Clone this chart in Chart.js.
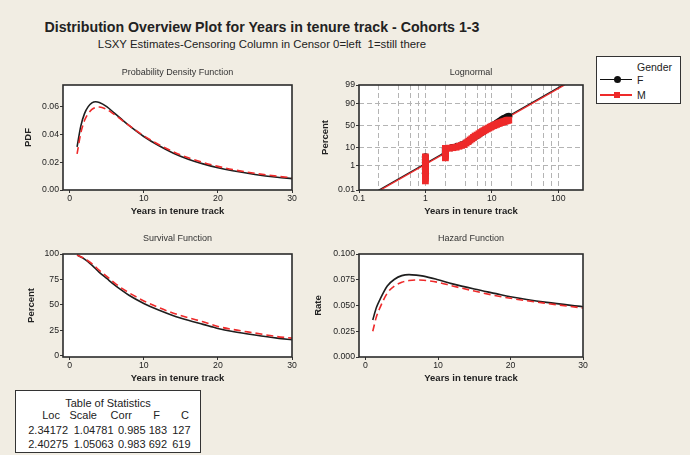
<!DOCTYPE html>
<html>
<head>
<meta charset="utf-8">
<script src="https://cdn.jsdelivr.net/npm/chart.js@4.4.1/dist/chart.umd.min.js"></script>
<style>
  html, body { margin: 0; padding: 0; }
  body {
    width: 690px; height: 455px; position: relative; overflow: hidden;
    background: #f1ede3; color: #222;
    font-family: "Liberation Sans", Arial, sans-serif;
  }
  canvas { position: absolute; }
  .lab { position: absolute; white-space: nowrap; line-height: 1; transform: translateY(-50%); }
  .lab.c { transform: translate(-50%, -50%); }
  .lab.r { transform: translate(-100%, -50%); }
  .box { position: absolute; box-sizing: border-box; border: 1.5px solid #333; background: #fff; }
  .ln { position: absolute; height: 1.5px; }
  .mk { position: absolute; }
</style>
</head>
<body>
  <div class="lab c" style="left:262px;top:27px;font-size:14.2px;font-weight:bold;">Distribution Overview Plot for Years in tenure track - Cohorts 1-3</div>
  <div class="lab c" style="left:262px;top:44.5px;font-size:11.4px;">LSXY Estimates-Censoring Column in Censor 0=left&nbsp; 1=still there</div>

  <canvas id="pdf" width="300" height="160" style="left:0;top:60px;"></canvas>
  <canvas id="logn" width="290" height="160" style="left:300px;top:60px;"></canvas>
  <canvas id="surv" width="300" height="158" style="left:0;top:229px;"></canvas>
  <canvas id="haz" width="290" height="158" style="left:300px;top:229px;"></canvas>

  <!-- legend -->
  <div class="box" style="left:596px;top:56px;width:85px;height:48px;"></div>
  <div class="lab" style="left:637px;top:67px;font-size:10.5px;">Gender</div>
  <div class="ln" style="left:600px;top:78.5px;width:32px;background:#111;"></div>
  <div class="mk" style="left:613.5px;top:75.5px;width:7px;height:7px;border-radius:50%;background:#111;"></div>
  <div class="lab" style="left:637px;top:79.5px;font-size:10.5px;">F</div>
  <div class="ln" style="left:600px;top:94px;width:32px;background:#ee2a2a;"></div>
  <div class="mk" style="left:614px;top:91.5px;width:6px;height:6px;background:#ee2a2a;"></div>
  <div class="lab" style="left:637px;top:95px;font-size:10.5px;">M</div>

  <!-- table of statistics -->
  <div class="box" style="left:15px;top:390px;width:186px;height:63px;"></div>
  <div class="lab c" style="left:108px;top:402.5px;font-size:11px;">Table of Statistics</div>
  <div id="tbl"></div>

<script>
// ---- data ----
const years = [1, 1.5, 2, 2.5, 3, 3.5, 4, 5, 6, 7, 8, 10, 12, 14, 16, 18, 20, 22, 25, 28, 30];
const pdfF = [0.031, 0.046, 0.055, 0.060, 0.0627, 0.0635, 0.063, 0.060, 0.0555, 0.051, 0.0465, 0.0385, 0.032, 0.0265, 0.0222, 0.0188, 0.016, 0.0138, 0.0112, 0.0092, 0.0082];
const pdfM = [0.026, 0.041, 0.050, 0.055, 0.058, 0.0595, 0.0598, 0.058, 0.0545, 0.0505, 0.0465, 0.039, 0.0328, 0.0275, 0.0232, 0.0198, 0.017, 0.0147, 0.012, 0.0099, 0.0088];

const survYears = [1, 2, 3, 4, 5, 6, 7, 8, 10, 12, 14, 16, 18, 20, 22, 25, 28, 30];
const survF = [99, 95, 89, 82, 76, 70, 64.5, 59.5, 51.5, 45, 39.5, 35, 31, 27, 24, 20.5, 17.5, 16];
const survM = [99, 95.5, 90.5, 84, 78, 72, 66.5, 62, 54, 47.5, 42, 37.5, 33.5, 29, 26, 22.5, 19, 17.5];

const hazYears = [1, 1.5, 2, 3, 4, 5, 6, 7, 8, 10, 12, 15, 18, 20, 25, 30];
const hazF = [0.036, 0.048, 0.056, 0.069, 0.0755, 0.079, 0.080, 0.0795, 0.0785, 0.075, 0.071, 0.066, 0.0615, 0.0585, 0.053, 0.0488];
const hazM = [0.025, 0.039, 0.048, 0.062, 0.069, 0.0725, 0.0742, 0.0748, 0.0745, 0.0725, 0.069, 0.064, 0.0595, 0.057, 0.052, 0.0475];

// lognormal probability plot (percent)
const fitF = { x: [0.2, 118], y: [0.01, 99] };
const fitM = { x: [0.21, 125], y: [0.01, 99] };
const ptsYearsF = [1, 1, 1, 1, 1, 1, 2, 2, 2, 2, 2.5, 3, 3.5, 4, 4.5, 5, 5.5, 6, 6.5, 7, 7.5, 8, 9, 10, 11, 12, 13, 14, 15, 16, 17, 18];
const ptsPctF = [0.3, 0.6, 1, 1.6, 2.4, 3.5, 4, 5.5, 7, 9, 10, 11.5, 13, 15.5, 18.5, 22, 25, 28, 31, 34, 37, 40, 44, 48, 52, 56, 59.5, 62.5, 65, 67, 69, 70];
const ptsYearsM = [1, 1, 1, 1, 1, 1, 1, 1, 1, 1, 1, 1, 2, 2, 2, 2, 2, 2, 2, 2,
  2.3, 2.6, 2.9, 3.2, 3.5, 3.8, 4.1, 4.4, 4.7, 5.0, 5.3, 5.6, 6.0, 6.4, 6.8, 7.2, 7.6, 8.0, 8.5, 9.0, 9.5, 10,
  10.6, 11.2, 11.8, 12.4, 13, 13.7, 14.4, 15.1, 15.8, 16.5, 17.2, 18];
const ptsPctM = [0.07, 0.12, 0.2, 0.3, 0.45, 0.65, 0.9, 1.2, 1.6, 2.1, 2.7, 3.5, 3.1, 3.8, 4.6, 5.5, 6.5, 7.6, 8.5, 9.3,
  9.5, 10, 10.5, 11.5, 12.5, 13.5, 15.5, 17.5, 20, 22, 24.5, 27, 29, 31.5, 34, 36, 38, 40, 42, 44, 46, 48,
  49.5, 51, 52.5, 54, 55, 56.5, 57.5, 58.5, 59.5, 60.5, 61.5, 62];

const yearTicks = [0, 10, 20, 30];
const pdfTicks = [0, 0.02, 0.04, 0.06];
const survTicks = [0, 25, 50, 75, 100];
const hazTicks = [0, 0.025, 0.05, 0.075, 0.1];
const logXTicks = [0.1, 0.2, 0.4, 0.6, 0.8, 1, 2, 4, 6, 8, 10, 20, 40, 60, 80, 100];
const logXMajor = [0.1, 1, 10, 100];
const probTicks = [0.01, 1, 10, 50, 90, 99];

const statCols = ['Loc', 'Scale', 'Corr', 'F', 'C'];
const statF = ['2.34172', '1.04781', '0.985', '183', '127'];
const statM = ['2.40275', '1.05063', '0.983', '692', '619'];

// ---- table ----
(function() {
  const tbl = document.getElementById('tbl');
  const headRight = [60, 97, 132, 160, 189];
  const valRight = [68, 113.5, 145.5, 167, 190.5];
  function put(text, x, y) {
    const d = document.createElement('div');
    d.className = 'lab r';
    d.style.cssText = `left:${x}px;top:${y}px;font-size:11px;`;
    d.textContent = text;
    tbl.appendChild(d);
  }
  statCols.forEach((t, i) => put(t, headRight[i], 414.5));
  statF.forEach((t, i) => put(t, valRight[i], 430));
  statM.forEach((t, i) => put(t, valRight[i], 443.5));
})();

// ---- probability (normal quantile) scale ----
function probit(p) {
  const a = [-39.6968302866538, 220.946098424521, -275.928510446969, 138.357751867269, -30.6647980661472, 2.50662827745924];
  const b = [-54.4760987982241, 161.585836858041, -155.698979859887, 66.8013118877197, -13.2806815528857];
  const c = [-0.00778489400243029, -0.322396458041136, -2.40075827716184, -2.54973253934373, 4.37466414146497, 2.93816398269878];
  const d = [0.00778469570904146, 0.32246712907004, 2.445134137143, 3.75440866190742];
  const pl = 0.02425;
  let q, r;
  if (p < pl) {
    q = Math.sqrt(-2 * Math.log(p));
    return (((((c[0]*q+c[1])*q+c[2])*q+c[3])*q+c[4])*q+c[5]) / ((((d[0]*q+d[1])*q+d[2])*q+d[3])*q+1);
  }
  if (p > 1 - pl) {
    q = Math.sqrt(-2 * Math.log(1 - p));
    return -(((((c[0]*q+c[1])*q+c[2])*q+c[3])*q+c[4])*q+c[5]) / ((((d[0]*q+d[1])*q+d[2])*q+d[3])*q+1);
  }
  q = p - 0.5; r = q * q;
  return (((((a[0]*r+a[1])*r+a[2])*r+a[3])*r+a[4])*r+a[5])*q / (((((b[0]*r+b[1])*r+b[2])*r+b[3])*r+b[4])*r+1);
}

class ProbabilityScale extends Chart.LinearScale {
  parse(raw, index) {
    const v = super.parse(raw, index);
    return v === null ? null : probit(v / 100);
  }
}
ProbabilityScale.id = 'probability';
ProbabilityScale.defaults = {};
Chart.register(ProbabilityScale);

// ---- shared bits ----
Chart.defaults.font.family = '"Liberation Sans", Arial, sans-serif';
Chart.defaults.color = '#222';

const BLACK = '#1e1e1e';
const RED = '#ee2a2a';
const tickFont = { size: 8.7, lineHeight: 1 };
const titleFont = { size: 9.5, weight: 'bold', lineHeight: 1.2 };

// white plot area, frame and panel title
const framePlugin = {
  id: 'frame',
  beforeDraw(chart) {
    const { ctx, chartArea: a } = chart;
    ctx.save();
    ctx.fillStyle = '#fff';
    ctx.fillRect(a.left, a.top, a.width, a.height);
    ctx.restore();
  },
  afterDraw(chart, args, opts) {
    const { ctx, chartArea: a } = chart;
    ctx.save();
    ctx.strokeStyle = '#2b2b2b';
    ctx.lineWidth = 1.6;
    ctx.strokeRect(a.left, a.top, a.width, a.height);
    ctx.fillStyle = '#333';
    ctx.font = '9px "Liberation Sans", Arial, sans-serif';
    ctx.textAlign = 'center';
    ctx.textBaseline = 'middle';
    ctx.fillText(opts.title, (a.left + a.right) / 2, a.top - opts.offset);
    ctx.restore();
  }
};

function fixedTicks(values) {
  return scale => { scale.ticks = values.map(v => ({ value: v })); };
}

function bottomAxis(type, min, max, ticks, labels, grid) {
  return {
    type, min, max, position: 'bottom',
    afterBuildTicks: fixedTicks(ticks),
    afterFit: s => { s.height = 30; },
    ticks: { font: tickFont, color: '#222', padding: 1, maxRotation: 0, autoSkip: false, callback: (v, i) => labels[i] },
    grid: Object.assign({ drawOnChartArea: false, tickLength: 3, tickColor: '#333', tickWidth: 1 }, grid || {}),
    border: { display: false, dash: [5, 3] },
    title: { display: true, text: 'Years in tenure track', font: titleFont, color: '#222', padding: { top: 0, bottom: 2.8 } }
  };
}

function leftAxis(type, min, max, ticks, labels, title, width, titleX, grid) {
  return {
    type, min, max, position: 'left',
    bounds: 'data',
    afterBuildTicks: fixedTicks(ticks),
    afterFit: s => { s.width = width; },
    ticks: { font: tickFont, color: '#222', padding: 1, autoSkip: false, callback: (v, i) => labels[i] },
    grid: Object.assign({ drawOnChartArea: false, tickLength: 3, tickColor: '#333', tickWidth: 1 }, grid || {}),
    border: { display: false, dash: [5, 3] },
    title: { display: true, text: title, font: titleFont, color: '#222', padding: { top: titleX - 5.7, bottom: 0 } }
  };
}

function curve(label, xs, ys, color, dashed, order) {
  return {
    label, order,
    data: xs.map((x, i) => ({ x, y: ys[i] })),
    borderColor: color, borderWidth: 1.6,
    borderDash: dashed ? [7, 4] : [],
    pointRadius: 0, fill: false,
    cubicInterpolationMode: 'monotone'
  };
}

function baseOptions(padRight, title, offset) {
  return {
    responsive: false,
    animation: false,
    events: [],
    layout: { padding: { top: 25, right: padRight, left: 0, bottom: 0 } },
    plugins: { legend: { display: false }, tooltip: { enabled: false }, frame: { title, offset } },
    scales: {}
  };
}

const yearLabels = yearTicks.map(String);

// ---- PDF ----
(function() {
  const opts = baseOptions(8, 'Probability Density Function', 12.7);
  opts.scales.x = bottomAxis('linear', -0.9, 30, yearTicks, yearLabels);
  opts.scales.y = leftAxis('linear', 0, 0.0756, pdfTicks, pdfTicks.map(v => v.toFixed(2)), 'PDF', 63, 28);
  new Chart(document.getElementById('pdf'), {
    type: 'line',
    data: { datasets: [curve('F', years, pdfF, BLACK, false, 2), curve('M', years, pdfM, RED, true, 1)] },
    options: opts,
    plugins: [framePlugin]
  });
})();

// ---- Lognormal probability plot ----
(function() {
  const opts = baseOptions(7, 'Lognormal', 12.7);
  const gridGray = '#b4b4b4';
  opts.scales.x = bottomAxis('logarithmic', 0.1, 236, logXTicks,
    logXTicks.map(v => logXMajor.includes(v) ? String(v) : ''),
    {
      drawOnChartArea: true,
      color: c => (c.tick && c.tick.value === 0.1) ? 'rgba(0,0,0,0)' : gridGray,
      tickColor: c => (c.tick && logXMajor.includes(c.tick.value)) ? '#333' : 'rgba(0,0,0,0)'
    });
  const probZ = probTicks.map(p => probit(p / 100));
  opts.scales.y = leftAxis('probability', 0.01, 99, probZ, probTicks.map(String), 'Percent', 59, 25,
    {
      drawOnChartArea: true,
      color: c => (c.index === 0 || c.index === probTicks.length - 1) ? 'rgba(0,0,0,0)' : gridGray
    });
  const pts = (label, xs, ys, color, style, radius, order) => ({
    label, order, showLine: false,
    data: xs.map((x, i) => ({ x, y: ys[i] })),
    pointStyle: style, pointRadius: radius,
    pointBackgroundColor: color, pointBorderColor: color, pointBorderWidth: 0
  });
  new Chart(document.getElementById('logn'), {
    type: 'line',
    data: {
      datasets: [
        Object.assign(curve('F fit', fitF.x, fitF.y, BLACK, false, 4), { cubicInterpolationMode: 'default', tension: 0, borderWidth: 1.4 }),
        Object.assign(curve('M fit', fitM.x, fitM.y, RED, false, 3), { cubicInterpolationMode: 'default', tension: 0, borderWidth: 1.4 }),
        pts('F', ptsYearsF, ptsPctF, '#111', 'circle', 3.6, 2),
        pts('M', ptsYearsM, ptsPctM, RED, 'rect', 4.8, 1)
      ]
    },
    options: opts,
    plugins: [framePlugin]
  });
})();

// ---- Survival ----
(function() {
  const opts = baseOptions(8, 'Survival Function', 15);
  opts.scales.x = bottomAxis('linear', -0.9, 30, yearTicks, yearLabels);
  opts.scales.y = leftAxis('linear', -1, 100, survTicks, survTicks.map(String), 'Percent', 63, 31.7);
  new Chart(document.getElementById('surv'), {
    type: 'line',
    data: { datasets: [curve('F', survYears, survF, BLACK, false, 2), curve('M', survYears, survM, RED, true, 1)] },
    options: opts,
    plugins: [framePlugin]
  });
})();

// ---- Hazard ----
(function() {
  const opts = baseOptions(7, 'Hazard Function', 15);
  opts.scales.x = bottomAxis('linear', -0.9, 30, yearTicks, yearLabels);
  opts.scales.y = leftAxis('linear', 0, 0.1, hazTicks, hazTicks.map(v => v.toFixed(3)), 'Rate', 59, 18.3);
  new Chart(document.getElementById('haz'), {
    type: 'line',
    data: { datasets: [curve('F', hazYears, hazF, BLACK, false, 2), curve('M', hazYears, hazM, RED, true, 1)] },
    options: opts,
    plugins: [framePlugin]
  });
})();
</script>
</body>
</html>
